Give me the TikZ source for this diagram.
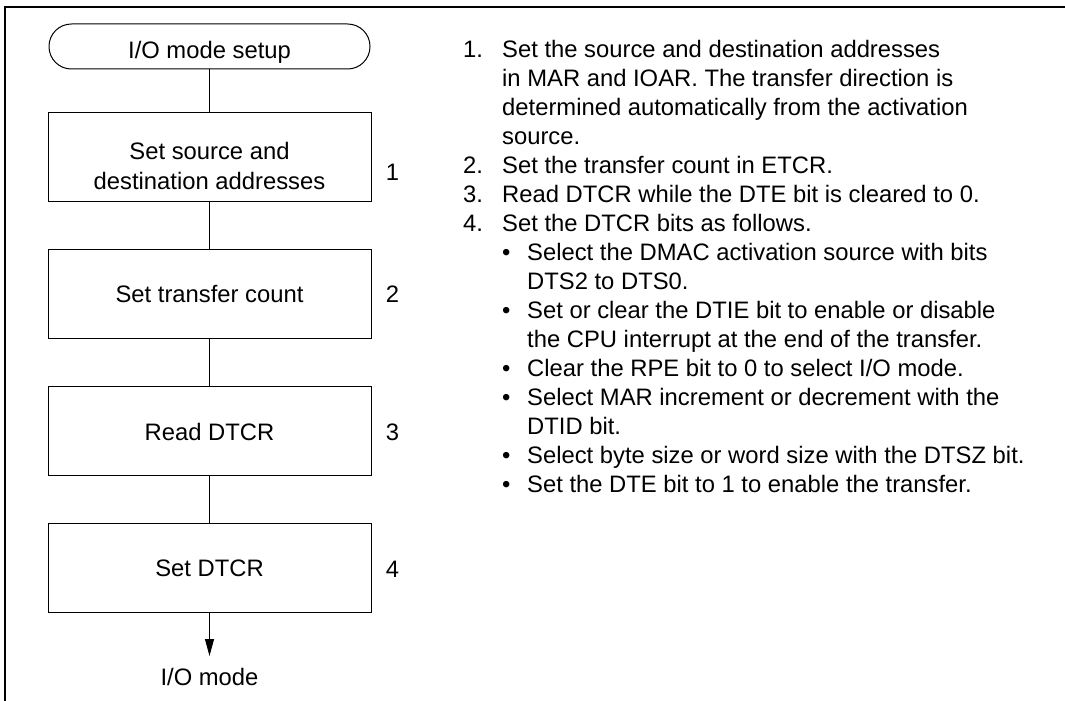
\documentclass[tikz,border=0pt]{standalone}
\usepackage{fontspec}
\setmainfont{Liberation Sans}
\usetikzlibrary{arrows.meta}
\begin{document}
\begin{tikzpicture}[x=1pt,y=-1pt,
  txt/.style={inner sep=0pt, anchor=base west, font=\fontsize{23.8}{29}\selectfont},
  ctxt/.style={inner sep=0pt, anchor=base, font=\fontsize{23.8}{29}\selectfont},
  stepbox/.style={draw, line width=1pt, minimum width=323pt, minimum height=89pt, inner sep=0pt},
  term/.style={draw, line width=1pt, rounded corners=22.4pt, minimum width=321pt, minimum height=45pt, inner sep=0pt},
  conn/.style={line width=1pt},
  frame/.style={line width=2.5pt}]
\useasboundingbox (0,0) rectangle (1065,701);
% frame
\draw[frame] (1065,7) -- (5,7) -- (5,701);
% flowchart
\node[term] (start) at (209.5,46.5) {};
\node[ctxt] (startlbl) at (209.5,59) {I/O mode setup};
\node[stepbox] (b1) at (209.5,157) {};
\node[stepbox] (b2) at (209.5,294) {};
\node[stepbox] (b3) at (209.5,431) {};
\node[stepbox] (b4) at (209.5,567.5) {};
\node[ctxt] (b1a) at (209.5,159) {Set source and};
\node[ctxt] (b1b) at (209.5,189) {destination addresses};
\node[ctxt] (b2l) at (209.5,302) {Set transfer count};
\node[ctxt] (b3l) at (209.5,440) {Read DTCR};
\node[ctxt] (b4l) at (209.5,576) {Set DTCR};
\node[ctxt] (n1) at (392.5,180) {1};
\node[ctxt] (n2) at (392.5,302) {2};
\node[ctxt] (n3) at (392.5,440) {3};
\node[ctxt] (n4) at (392.5,577) {4};
\coordinate (endpt) at (209.5,656);
\node[ctxt] (endlbl) at (209.5,685) {I/O mode};
\draw[conn] (start.south) -- (b1.north);
\draw[conn] (b1.south) -- (b2.north);
\draw[conn] (b2.south) -- (b3.north);
\draw[conn] (b3.south) -- (b4.north);
\draw[conn, -{Triangle[length=17pt,width=9pt]}] (b4.south) -- (endpt);
% description text
\node[txt] (k1) at (463,57.3) {1.};
\node[txt] (t1) at (502,57.3) {Set the source and destination addresses};
\node[txt] (t2) at (502,86.3) {in MAR and IOAR. The transfer direction is};
\node[txt] (t3) at (502,115.3) {determined automatically from the activation};
\node[txt] (t4) at (502,144.3) {source.};
\node[txt] (k2) at (463,173.3) {2.};
\node[txt] (t5) at (502,173.3) {Set the transfer count in ETCR.};
\node[txt] (k3) at (463,202.3) {3.};
\node[txt] (t6) at (502,202.3) {Read DTCR while the DTE bit is cleared to 0.};
\node[txt] (k4) at (463,231.3) {4.};
\node[txt] (t7) at (502,231.3) {Set the DTCR bits as follows.};
\node[txt] (u1) at (502,260.3) {•};
\node[txt] (t8) at (527,260.3) {Select the DMAC activation source with bits};
\node[txt] (t9) at (527,289.3) {DTS2 to DTS0.};
\node[txt] (u2) at (502,318.3) {•};
\node[txt] (t10) at (527,318.3) {Set or clear the DTIE bit to enable or disable};
\node[txt] (t11) at (527,347.3) {the CPU interrupt at the end of the transfer.};
\node[txt] (u3) at (502,376.3) {•};
\node[txt] (t12) at (527,376.3) {Clear the RPE bit to 0 to select I/O mode.};
\node[txt] (u4) at (502,405.3) {•};
\node[txt] (t13) at (527,405.3) {Select MAR increment or decrement with the};
\node[txt] (t14) at (527,434.3) {DTID bit.};
\node[txt] (u5) at (502,463.3) {•};
\node[txt] (t15) at (527,463.3) {Select byte size or word size with the DTSZ bit.};
\node[txt] (u6) at (502,492.3) {•};
\node[txt] (t16) at (527,492.3) {Set the DTE bit to 1 to enable the transfer.};
\end{tikzpicture}
\end{document}
